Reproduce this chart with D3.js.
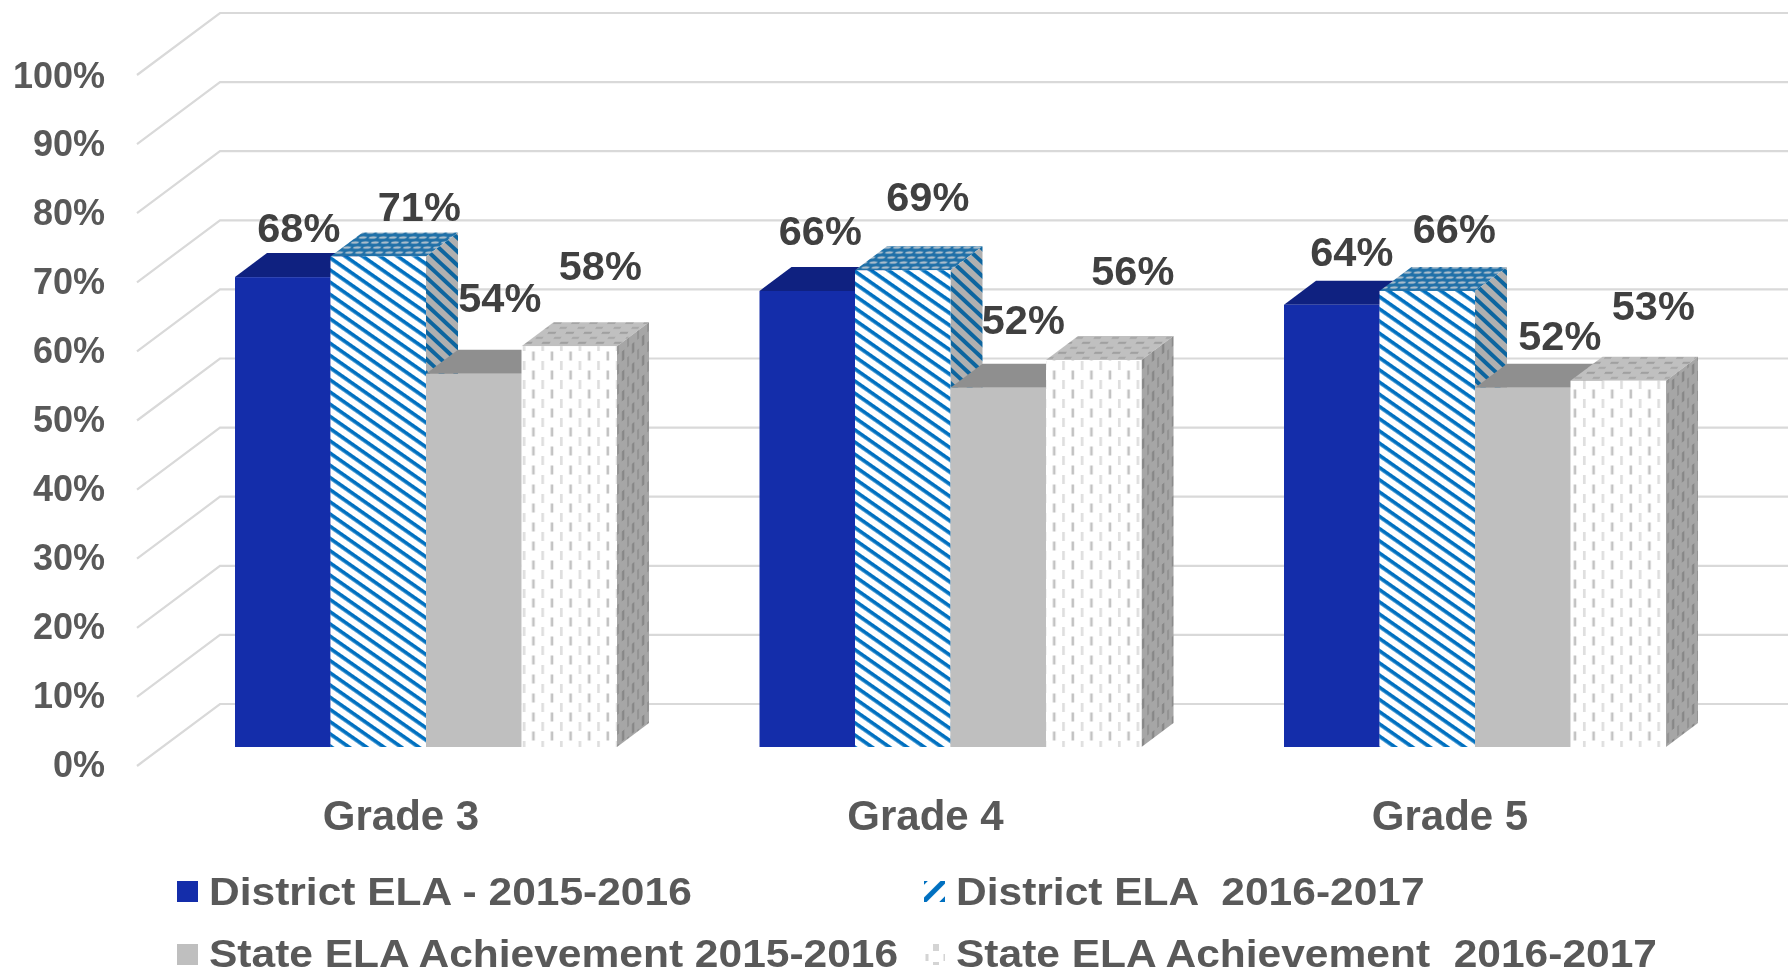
<!DOCTYPE html>
<html><head><meta charset="utf-8">
<script src="https://cdn.jsdelivr.net/npm/d3@7"></script>
<style>html,body{margin:0;padding:0;background:#fff;overflow:hidden}svg{display:block;filter:blur(0.5px)}text{font-family:"Liberation Sans",Arial,sans-serif;font-weight:700}</style>
</head><body><svg id="c" width="1788" height="971"></svg>
<script>
const categories=["Grade 3","Grade 4","Grade 5"];
const seriesNames=["District ELA - 2015-2016","District ELA  2016-2017","State ELA Achievement 2015-2016","State ELA Achievement  2016-2017"];
const district1516=[68,66,64];
const district1617=[71,69,66];
const state1516=[54,52,52];
const state1617=[58,56,53];
const yTicks=[0,10,20,30,40,50,60,70,80,90,100];
const values=[district1516,district1617,state1516,state1617];
// label nudges from the bar-top centre (layout only)
const nudgeX=[[16,41,26,31],[13,25,25,39],[20,27,37,35]];
const nudgeY=[[-35,-35,-62,-66],[-46,-59,-54,-75],[-39,-48,-38,-61]];

const svg=d3.select("#c"), defs=svg.append("defs");
const depthX=32, depthY=24;
const y=d3.scaleLinear().domain([0,100]).range([747,56]);
const tickY=d3.scaleLinear().domain([0,100]).range([777,87.5]);
const groupStarts=d3.scaleLinear().domain([0,2]).range([235,1284]);
const x1=d3.scaleBand().domain(d3.range(4)).range([0,382]);

function pat(id,w,h,bg,draw,tf){
  const p=defs.append("pattern").attr("id",id).attr("patternUnits","userSpaceOnUse").attr("width",w).attr("height",h);
  if(tf)p.attr("patternTransform",tf);
  p.append("rect").attr("width",w).attr("height",h).attr("fill",bg);
  draw(p);
}
const blue="#0070c0";
pat("hFront",10,10,"#fff",p=>p.append("rect").attr("width",10).attr("height",3.7).attr("fill",blue),"rotate(35)");
pat("hLegend",14,14,"#fff",p=>p.append("rect").attr("width",14).attr("height",5).attr("fill",blue),"rotate(-45)");
pat("hSide",10,10,"#b0b0b0",p=>p.append("rect").attr("width",10).attr("height",4).attr("fill","#0d659f"),"rotate(43)");
pat("hTop",10,10,"#1f70a8",p=>{
  p.append("ellipse").attr("cx",5).attr("cy",2.5).attr("rx",3.9).attr("ry",1.3).attr("fill","#a8bccb");
  p.append("ellipse").attr("cx",0).attr("cy",7.5).attr("rx",3.9).attr("ry",1.3).attr("fill","#a8bccb");
  p.append("ellipse").attr("cx",10).attr("cy",7.5).attr("rx",3.9).attr("ry",1.3).attr("fill","#a8bccb");
},"skewX(-30)");
pat("dFront",18.6,19,"#fff",p=>{
  p.append("rect").attr("x",2).attr("y",0).attr("width",2.6).attr("height",9).attr("fill","#dedede");
  p.append("rect").attr("x",11.3).attr("y",9.5).attr("width",2.6).attr("height",9).attr("fill","#c2c2c2");
});
pat("dLegend",18,18,"#fff",p=>{
  p.append("rect").attr("x",7.5).attr("y",0).attr("width",3).attr("height",7).attr("fill","#d4d4d4");
  p.append("rect").attr("x",0).attr("y",8).attr("width",3).attr("height",7).attr("fill","#d4d4d4");
  p.append("rect").attr("x",15).attr("y",8).attr("width",3).attr("height",7).attr("fill","#d4d4d4");
});
pat("dSide",10,20,"#a6a6a6",p=>{
  p.append("rect").attr("x",2).attr("y",0).attr("width",2.2).attr("height",10).attr("fill","#868686");
  p.append("rect").attr("x",7).attr("y",10).attr("width",2.2).attr("height",10).attr("fill","#929292");
},"skewY(-37)");
pat("dTop",18,10,"#c0c0c0",p=>{
  p.append("rect").attr("x",2).attr("y",2).attr("width",8).attr("height",1.8).attr("fill","#999");
  p.append("rect").attr("x",11).attr("y",7).attr("width",8).attr("height",1.8).attr("fill","#a4a4a4");
},"skewX(-30)");

const looks=[
 {front:"#142daa",top:"#0f2180",side:"#0f2180"},
 {front:"url(#hFront)",top:"url(#hTop)",side:"url(#hSide)"},
 {front:"#bfbfbf",top:"#8f8f8f",side:"#8f8f8f"},
 {front:"url(#dFront)",top:"url(#dTop)",side:"url(#dSide)"}
];

// gridlines with perspective wall
const grid=svg.append("g");
yTicks.forEach(t=>{
  const yb=y(t)-43;
  grid.append("path").attr("d",d3.line()([[137,yb+62],[220,yb],[1788,yb]]))
    .attr("fill","none").attr("stroke","#d9d9d9").attr("stroke-width",2.2);
  svg.append("text").attr("x",105).attr("y",tickY(t)).attr("text-anchor","end")
    .attr("font-size",36).attr("fill","#595959").text(t+"%");
});

categories.forEach((c,i)=>{
  const g=svg.append("g"), gx=groupStarts(i);
  values.forEach((vals,s)=>{
    const l=gx+x1(s), r=l+x1.bandwidth(), t=y(vals[i]), b=y(0), L=looks[s];
    g.append("path").attr("d",`M${l},${t}L${l+depthX},${t-depthY}L${r+depthX},${t-depthY}L${r},${t}Z`).attr("fill",L.top);
    g.append("path").attr("d",`M${r},${t}L${r+depthX},${t-depthY}L${r+depthX},${b-depthY}L${r},${b}Z`).attr("fill",L.side);
    g.append("rect").attr("x",l).attr("y",t).attr("width",x1.bandwidth()).attr("height",b-t).attr("fill",L.front);
  });
  svg.append("text").attr("x",gx+166).attr("y",830).attr("text-anchor","middle")
    .attr("font-size",42).attr("fill","#595959").text(c);
});
categories.forEach((c,i)=>{
  values.forEach((vals,s)=>{
    svg.append("text").attr("x",groupStarts(i)+x1(s)+x1.bandwidth()/2+nudgeX[i][s])
      .attr("y",y(vals[i])+nudgeY[i][s]).attr("text-anchor","middle")
      .attr("font-size",41.5).attr("fill","#404040").text(vals[i]+"%");
  });
});

// legend
const swatchX=[177,924], swatchY=[881,944], textX=[209,956], baseY=[905,967], stretch=1.09;
const fills=["#142daa","url(#hLegend)","#bfbfbf","url(#dLegend)"];
seriesNames.forEach((n,s)=>{
  const col=s%2, row=s>>1;
  svg.append("rect").attr("x",swatchX[col]).attr("y",swatchY[row]).attr("width",21).attr("height",21).attr("fill",fills[s]);
  const t=svg.append("text").attr("x",textX[col]).attr("y",baseY[row]).attr("font-size",39)
    .style("white-space","pre").attr("fill","#595959").text(n);
  const w=t.node().getComputedTextLength();
  t.attr("textLength",w*stretch).attr("lengthAdjust","spacingAndGlyphs");
});
</script></body></html>
